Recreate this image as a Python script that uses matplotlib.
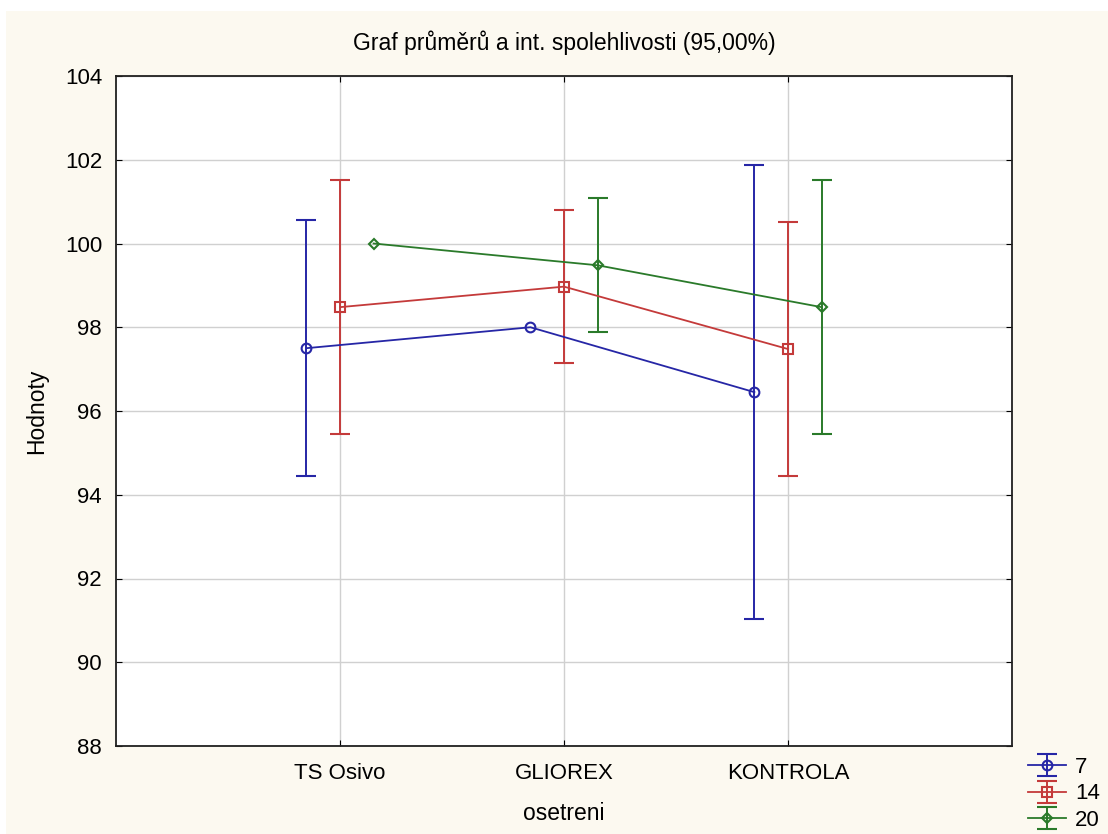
import numpy as np
import matplotlib
matplotlib.use("Agg")
import matplotlib.pyplot as plt
from matplotlib.patches import Rectangle

plt.rcParams['font.family'] = ['Liberation Sans', 'DejaVu Sans']

categories = ["TS Osivo", "GLIOREX", "KONTROLA"]
series_names = ["7", "14", "20"]
means_7 = [97.5, 98.0, 96.45]
ci_7 = [3.05, np.nan, 5.42]
means_14 = [98.48, 98.97, 97.48]
ci_14 = [3.03, 1.82, 3.03]
means_20 = [100.0, 99.48, 98.48]
ci_20 = [np.nan, 1.6, 3.03]

colors = ["#2626a6", "#c43a3a", "#2a7a2a"]
markers = ["o", "s", "D"]
msizes = [7, 7, 5.5]
offsets = [-0.15, 0.0, 0.15]

bg = "#fcf9f0"
fig = plt.figure(figsize=(11.08, 8.34), dpi=100, facecolor=bg)
# white screenshot border at top and left
fig.patches.append(Rectangle((0, 1 - 11/834), 1, 11/834, transform=fig.transFigure,
                             facecolor="white", edgecolor="none", zorder=-1))
fig.patches.append(Rectangle((0, 0), 6/1108, 1, transform=fig.transFigure,
                             facecolor="white", edgecolor="none", zorder=-1))

ax = fig.add_axes([116/1108, 1 - 746/834, (1012 - 116)/1108, (746 - 76)/834])
ax.set_facecolor("white")

x = np.arange(1, len(categories) + 1)
all_means = [means_7, means_14, means_20]
all_ci = [ci_7, ci_14, ci_20]
handles = []
for name, m, ci, c, mk, ms, off in zip(series_names, all_means, all_ci, colors, markers, msizes, offsets):
    h = ax.errorbar(x + off, m, yerr=ci, color=c, marker=mk, markersize=ms,
                    markerfacecolor="none", markeredgecolor=c, markeredgewidth=1.5,
                    linewidth=1.3, elinewidth=1.4, capsize=7, capthick=1.4,
                    label=name, zorder=3)
    handles.append(h)

ax.set_xlim(0, 4)
ax.set_ylim(88, 104)
ax.set_xticks(x)
ax.set_xticklabels(categories)
ax.set_yticks(np.arange(88, 105, 2))
ax.grid(True, color="#d0d0d0", linewidth=1.0, zorder=0)
ax.set_axisbelow(True)
ax.tick_params(direction="in", top=True, right=True, length=4, labelsize=16)
ax.tick_params(axis="x", pad=12)
ax.tick_params(axis="y", pad=10)
for s in ax.spines.values():
    s.set_linewidth(1.3)
    s.set_color("#202020")

ax.set_title("Graf průměrů a int. spolehlivosti (95,00%)", fontsize=16.5, pad=19)
ax.set_xlabel("osetreni", fontsize=16.5, labelpad=13)
ax.set_ylabel("Hodnoty", fontsize=16.5, labelpad=12)

fig.legend(handles=handles, labels=series_names, loc="lower right",
           bbox_to_anchor=(1100/1108, 3/834), frameon=False, fontsize=16,
           handlelength=1.73, handletextpad=0.4, labelspacing=0.25,
           borderaxespad=0, borderpad=0)

fig.savefig("out.png", dpi=100, facecolor=bg)
